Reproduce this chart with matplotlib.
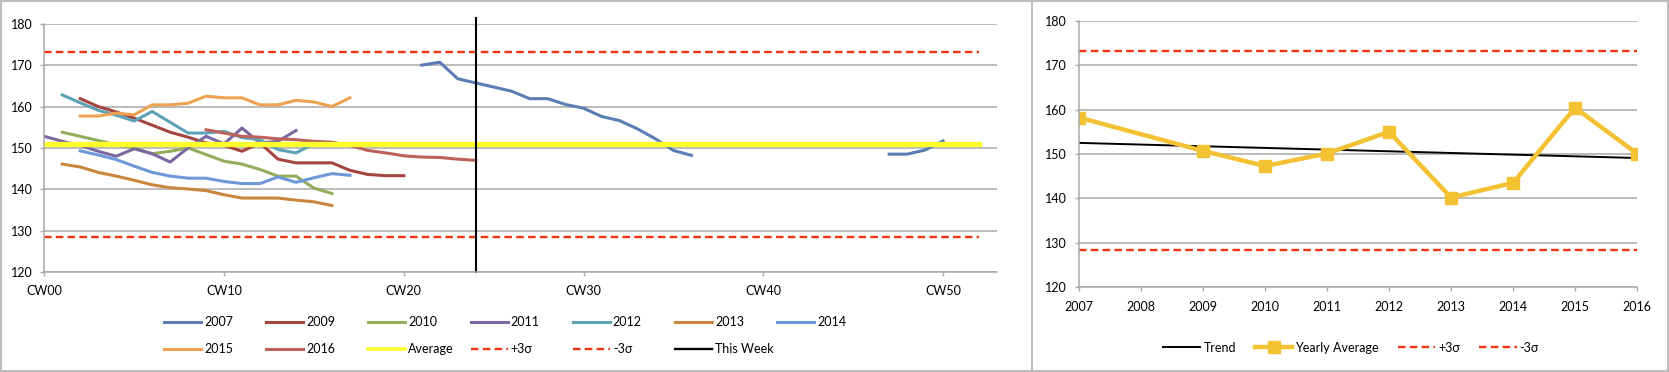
import numpy as np
import matplotlib

matplotlib.use("Agg")
import matplotlib.pyplot as plt
from matplotlib.lines import Line2D
from matplotlib.patches import Rectangle

plt.rcParams["font.family"] = ["Lato", "DejaVu Sans"]
plt.rcParams["font.size"] = 9

# ---- weekly series (value per calendar week, starting at the given week) ----
start_2007 = 21
w_2007 = [170.0, 170.7, 166.7, 165.7, 164.7, 163.7, 161.9, 161.9, 160.5, 159.6,
          157.6, 156.6, 154.6, 152.2, 149.4, 148.2,
          np.nan, np.nan, np.nan, np.nan, np.nan, np.nan, np.nan, np.nan, np.nan, np.nan,
          148.5, 148.5, 149.5, 151.7]
start_2009 = 2
w_2009 = [161.9, 160.0, 158.7, 157.2, 155.5, 153.8, 152.6, 151.2, 150.6, 149.2,
          151.2, 147.3, 146.4, 146.4, 146.4, 144.6, 143.6, 143.3, 143.3]
start_2010 = 1
w_2010 = [153.8, 152.8, 151.8, 150.8, 150.0, 148.6, 149.2, 150.0, 148.4, 146.8,
          146.1, 144.8, 143.2, 143.2, 140.3, 139.0]
start_2011 = 0
w_2011 = [152.8, 151.6, 150.6, 149.2, 148.0, 149.8, 148.6, 146.6, 150.0, 152.8,
          151.0, 154.8, 151.2, 151.6, 154.2]
start_2012 = 1
w_2012 = [162.8, 160.9, 159.1, 157.9, 156.5, 158.8, 156.2, 153.6, 153.6, 154.0,
          152.5, 152.0, 149.6, 148.8, 151.0]
start_2013 = 1
w_2013 = [146.1, 145.4, 144.1, 143.2, 142.2, 141.1, 140.4, 140.1, 139.7, 138.7,
          137.9, 137.9, 137.9, 137.4, 137.0, 136.1]
start_2014 = 2
w_2014 = [149.3, 148.3, 147.2, 145.6, 144.1, 143.2, 142.7, 142.7, 141.9, 141.4,
          141.4, 143.0, 141.7, 142.8, 143.8, 143.4]
start_2015 = 2
w_2015 = [157.7, 157.7, 158.4, 158.0, 160.4, 160.4, 160.8, 162.5, 162.1, 162.1,
          160.4, 160.4, 161.5, 161.1, 160.0, 162.1]
start_2016 = 9
w_2016 = [154.4, 153.6, 152.8, 152.6, 152.2, 152.0, 151.6, 151.4, 150.6, 149.4,
          148.8, 148.1, 147.8, 147.7, 147.3, 147.0]

average = 150.9
plus_3s = 173.2
minus_3s = 128.5
ref_weeks = [0, 52]
this_week = 24
this_week_span = [120, 181.4]

week_ticks = [0, 10, 20, 30, 40, 50]
week_labels = ["CW00", "CW10", "CW20", "CW30", "CW40", "CW50"]

# ---- yearly panel ----
years = ["2007", "2008", "2009", "2010", "2011", "2012", "2013", "2014", "2015", "2016"]
yearly_avg = [158.2, np.nan, 150.7, 147.3, 150.1, 155.0, 140.2, 143.5, 160.4, 150.1]
trend_ends = [152.5, 149.1]

COLORS = {
    "2007": "#5A7DB3", "2009": "#A4453F", "2010": "#94AD5C", "2011": "#7D67A1",
    "2012": "#5DA2B6", "2013": "#C9873E", "2014": "#6F98D8", "2015": "#EDA151",
    "2016": "#BC625B",
}
AVG_COLOR = "#FFFF2A"
SIGMA_COLOR = "#EE3412"
GOLD = "#F2C232"
GRID = "#A8A8A8"

W, H = 1669, 372
fig = plt.figure(figsize=(W / 100, H / 100), dpi=100)


def px(x, y):
    return x / W, 1 - y / H


def style_axes(ax):
    for s in ("top", "right"):
        ax.spines[s].set_visible(False)
    for s in ("left", "bottom"):
        ax.spines[s].set_color(GRID)
        ax.spines[s].set_linewidth(1.1)
    ax.yaxis.grid(True, color=GRID, lw=1.1)
    ax.set_axisbelow(True)
    ax.tick_params(length=3, width=1, color=GRID)
    ax.set_ylim(120, 180)
    ax.set_yticks(range(120, 181, 10))


# ---------------- left panel ----------------
ax1 = fig.add_axes([44.3 / W, 1 - 272.2 / H, (997 - 44.3) / W, (272.2 - 23.7) / H])
style_axes(ax1)
ax1.set_xlim(0, 53)

weekly = [("2007", start_2007, w_2007), ("2009", start_2009, w_2009),
          ("2010", start_2010, w_2010), ("2011", start_2011, w_2011),
          ("2012", start_2012, w_2012), ("2013", start_2013, w_2013),
          ("2014", start_2014, w_2014), ("2015", start_2015, w_2015),
          ("2016", start_2016, w_2016)]
for name, start, vals in weekly:
    x = np.arange(start, start + len(vals))
    ax1.plot(x, vals, color=COLORS[name], lw=2.2, solid_joinstyle="round")

dash = (0, (3.2, 1.8))
ax1.plot(ref_weeks, [average] * 2, color=AVG_COLOR, lw=3.8)
ax1.plot(ref_weeks, [plus_3s] * 2, color=SIGMA_COLOR, lw=1.7, ls=dash)
ax1.plot(ref_weeks, [minus_3s] * 2, color=SIGMA_COLOR, lw=1.7, ls=dash)
ax1.plot([this_week] * 2, this_week_span, color="black", lw=1.5, clip_on=False)

ax1.set_xticks(week_ticks)
ax1.set_xticklabels(week_labels)
ax1.tick_params(axis="x", pad=6)
ax1.tick_params(axis="y", pad=5)

# Excel-style legend: equal-width columns, two rows
legend_items = [("2007", COLORS["2007"], "-", 2.2), ("2009", COLORS["2009"], "-", 2.2),
                ("2010", COLORS["2010"], "-", 2.2), ("2011", COLORS["2011"], "-", 2.2),
                ("2012", COLORS["2012"], "-", 2.2), ("2013", COLORS["2013"], "-", 2.2),
                ("2014", COLORS["2014"], "-", 2.2), ("2015", COLORS["2015"], "-", 2.2),
                ("2016", COLORS["2016"], "-", 2.2), ("Average", AVG_COLOR, "-", 2.6),
                ("+3σ", SIGMA_COLOR, dash, 1.7), ("-3σ", SIGMA_COLOR, dash, 1.7),
                ("This Week", "black", "-", 1.7)]
for i, (label, color, ls, lw) in enumerate(legend_items):
    row, col = divmod(i, 7)
    x0 = 164 + col * 102.2
    y0 = 322 + row * 27
    (xa, ya), (xb, _) = px(x0, y0), px(x0 + 37, y0)
    fig.add_artist(Line2D([xa, xb], [ya, ya], transform=fig.transFigure,
                          color=color, lw=lw, ls=ls))
    tx, ty = px(x0 + 40, y0)
    fig.text(tx, ty, label, ha="left", va="center", fontsize=9)

# ---------------- right panel ----------------
ax2 = fig.add_axes([1079 / W, 1 - 287.3 / H, (1637 - 1079) / W, (287.3 - 20.7) / H])
style_axes(ax2)
xpos = np.arange(len(years))
ax2.set_xlim(0, len(years) - 1)
ax2.set_xticks(xpos)
ax2.set_xticklabels(years)
ax2.tick_params(axis="x", pad=7)
ax2.tick_params(axis="y", pad=6)

avg = np.array(yearly_avg)
ok = ~np.isnan(avg)
ax2.plot([xpos[0], xpos[-1]], trend_ends, color="black", lw=1.4, label="Trend")
ax2.plot(xpos[ok], avg[ok], color=GOLD, lw=3.2, marker="s", ms=8, label="Yearly Average")
ax2.plot([xpos[0], xpos[-1]], [plus_3s] * 2, color=SIGMA_COLOR, lw=1.7, ls=dash, label="+3σ")
ax2.plot([xpos[0], xpos[-1]], [minus_3s] * 2, color=SIGMA_COLOR, lw=1.7, ls=dash, label="-3σ")
ax2.legend(loc="center", bbox_to_anchor=px(1351, 347.7), bbox_transform=fig.transFigure,
           ncol=4, frameon=False, handlelength=3.0, handletextpad=0.25,
           columnspacing=1.5, numpoints=1, fontsize=9, borderaxespad=0)

# panel frames
fig.add_artist(Rectangle((0.0006, 0.002), 0.9988, 0.995, transform=fig.transFigure,
                         fill=False, ec="#BDBDBD", lw=1.5))
sx, _ = px(1032, 0)
fig.add_artist(Line2D([sx, sx], [0, 1], transform=fig.transFigure, color="#BDBDBD", lw=1.5))

fig.savefig("out.png", dpi=100)
